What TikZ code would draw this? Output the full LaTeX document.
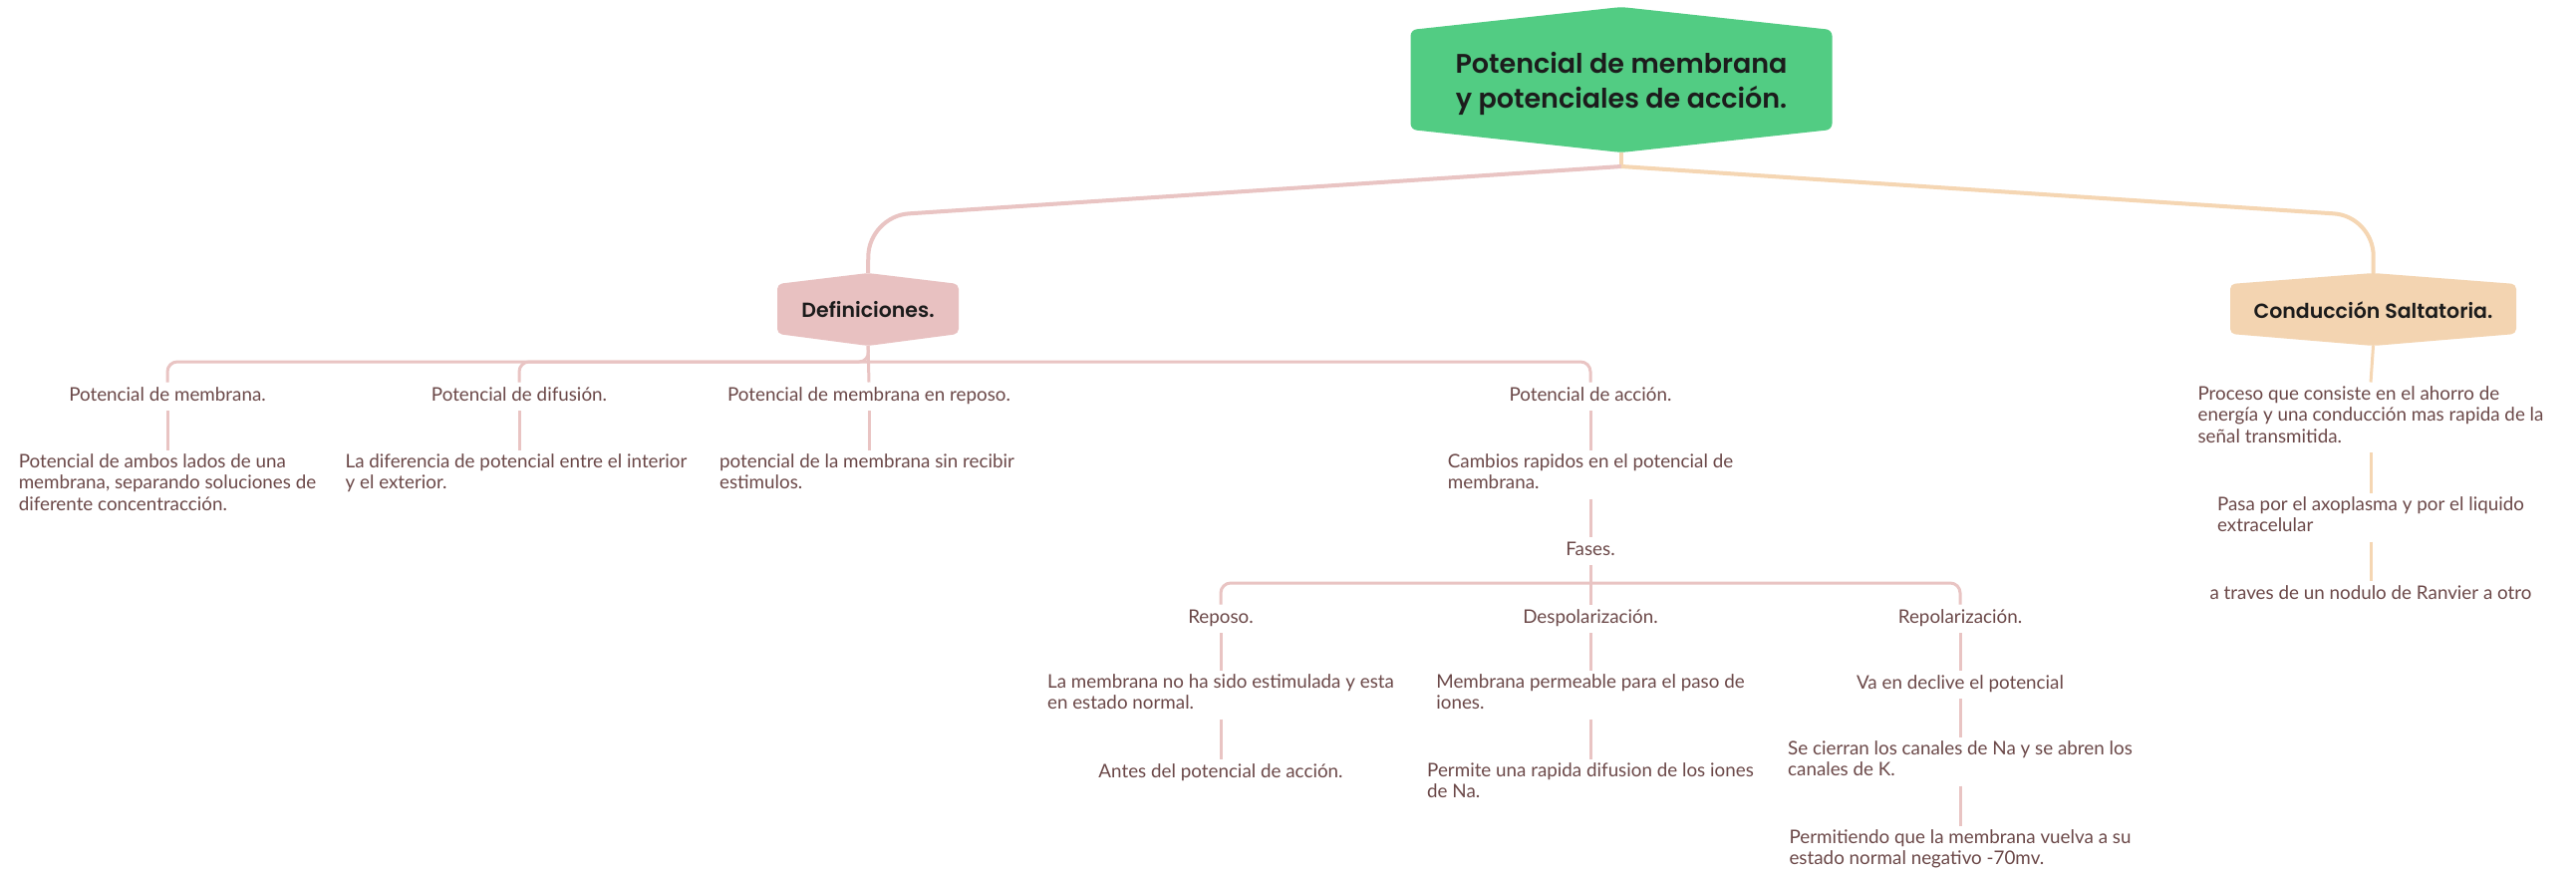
\documentclass[tikz,border=0pt]{standalone}
\usepackage{fontspec}
\setmainfont{Lato}
\newfontfamily\headfont{Poppins SemiBold}
\usetikzlibrary{backgrounds,calc}
\definecolor{rootgreen}{HTML}{52CC83}
\definecolor{defpink}{HTML}{E8C1C1}
\definecolor{csorange}{HTML}{F3D4B1}
\definecolor{linepink}{HTML}{E9C4C3}
\definecolor{lineorange}{HTML}{F5D6B3}
\definecolor{leaftext}{HTML}{6B4848}
\definecolor{headtext}{HTML}{1C1C1C}
\begin{document}
\begin{tikzpicture}[x=1pt,y=-1pt,
  leaf/.style={font=\fontsize{18.8}{21.5}\selectfont, text=leaftext, align=left,
    inner xsep=0pt, inner ysep=3.5pt, anchor=north,
    execute at begin node=\strut, execute at end node=\strut},
  hexnode/.style={inner sep=0pt, text=headtext, align=center},
  pinkline/.style={draw=linepink, line width=3pt},
  pinkmain/.style={draw=linepink, line width=4pt},
  orangeline/.style={draw=lineorange, line width=3pt},
  orangemain/.style={draw=lineorange, line width=4pt}]
\useasboundingbox (0,0) rectangle (2585,875);

% ---- boxes (text nodes; the hexagons are drawn round them)
\node[hexnode, font=\headfont\fontsize{27}{35}\selectfont] (root) at (1627,84)
  {Potencial de membrana\\y potenciales de acción.};
\node[hexnode, font=\headfont\fontsize{20.5}{25}\selectfont] (def) at (871,311) {Definiciones.};
\node[hexnode, font=\headfont\fontsize{20.5}{25}\selectfont] (cs) at (2381.5,311) {Conducción Saltatoria.};

% root hexagon corners
\coordinate (rnw) at ($(root.center)+(-211.5,-54)$);
\coordinate (rne) at ($(root.center)+(211.5,-54)$);
\coordinate (rse) at ($(root.center)+(211.5,46)$);
\coordinate (rsw) at ($(root.center)+(-211.5,46)$);
\coordinate (rtop) at ($(root.center)+(0,-77)$);
\coordinate (roottip) at ($(root.center)+(0,69)$);
% Definiciones hexagon
\coordinate (dnw) at ($(def.center)+(-91,-26)$);
\coordinate (dne) at ($(def.center)+(91,-26)$);
\coordinate (dse) at ($(def.center)+(91,24)$);
\coordinate (dsw) at ($(def.center)+(-91,24)$);
\coordinate (deftop) at ($(def.center)+(0,-37)$);
\coordinate (defbot) at ($(def.center)+(0,36)$);
% Conduccion hexagon
\coordinate (cnw) at ($(cs.center)+(-143.5,-26)$);
\coordinate (cne) at ($(cs.center)+(143.5,-26)$);
\coordinate (cse) at ($(cs.center)+(143.5,24)$);
\coordinate (csw) at ($(cs.center)+(-143.5,24)$);
\coordinate (cstop) at ($(cs.center)+(0,-37)$);
\coordinate (csbot) at ($(cs.center)+(0,36)$);

\begin{scope}[on background layer]
  \fill[white] (0,0) rectangle (2585,875);
  \fill[rootgreen, rounded corners=6pt] (rnw) -- (rtop) -- (rne) -- (rse) -- (roottip) -- (rsw) -- cycle;
  \fill[defpink, rounded corners=5pt] (dnw) -- (deftop) -- (dne) -- (dse) -- (defbot) -- (dsw) -- cycle;
  \fill[csorange, rounded corners=5pt] (cnw) -- (cstop) -- (cne) -- (cse) -- (csbot) -- (csw) -- cycle;
\end{scope}

% ---- Definiciones branch
\node[leaf] (pm) at (168,383.5) {Potencial de membrana.};
\node[leaf] (pd) at (521,383.5) {Potencial de difusión.};
\node[leaf] (pmr) at (872,383.5) {Potencial de membrana en reposo.};
\node[leaf] (pa) at (1596,383.5) {Potencial de acción.};

\node[leaf] (pm1) at (168,451.5) {Potencial de ambos lados de una\\membrana, separando soluciones de\\diferente concentracción.};
\node[leaf] (pd1) at (518,451.5) {La diferencia de potencial entre el interior\\y el exterior.};
\node[leaf] (pmr1) at (870,451.5) {potencial de la membrana sin recibir\\estimulos.};
\node[leaf] (pa1) at (1596,451.5) {Cambios rapidos en el potencial de\\membrana.};
\node[leaf] (fases) at (1596,538.5) {Fases.};

\node[leaf] (rep) at (1225,606.5) {Reposo.};
\node[leaf] (desp) at (1596,606.5) {Despolarización.};
\node[leaf] (repol) at (1967,606.5) {Repolarización.};

\node[leaf] (rep1) at (1225,672.5) {La membrana no ha sido estimulada y esta\\en estado normal.};
\node[leaf] (rep2) at (1225,761.5) {Antes del potencial de acción.};
\node[leaf] (desp1) at (1596,672.5) {Membrana permeable para el paso de\\iones.};
\node[leaf] (desp2) at (1596,761.5) {Permite una rapida difusion de los iones\\de Na.};
\node[leaf] (repol1) at (1967,672.5) {Va en declive el potencial};
\node[leaf] (repol2) at (1967,739.5) {Se cierran los canales de Na y se abren los\\canales de K.};
\node[leaf] (repol3) at (1967,828.5) {Permitiendo que la membrana vuelva a su\\estado normal negativo -70mv.};

% ---- Conduccion branch
\node[leaf] (cs1) at (2379,383.5) {Proceso que consiste en el ahorro de\\energía y una conducción mas rapida de la\\señal transmitida.};
\node[leaf] (cs2) at (2379,494.5) {Pasa por el axoplasma y por el liquido\\extracelular};
\node[leaf] (cs3) at (2379,582.5) {a traves de un nodulo de Ranvier a otro};

% ---- connectors
\coordinate (junc) at (1627,167);
\coordinate (pinkc) at (872,217);
\coordinate (orangec) at (2382,217);
\draw[orangemain] (roottip) -- (junc);
\draw[pinkmain, rounded corners=40pt] (junc) -- (pinkc) -- (deftop);
\draw[orangemain, rounded corners=40pt] (junc) -- (orangec) -- (cstop);

\coordinate (defh) at (872,363);
\draw[pinkline, rounded corners=10pt] (defbot) -- (defh) -| (pm.north);
\draw[pinkline, rounded corners=10pt] (defh) -| (pd.north);
\draw[pinkline, rounded corners=10pt] (defh) -| (pa.north);
\draw[pinkline] (defbot) -- (pmr.north);

\draw[pinkline] (pm.south) -- (pm.south |- pm1.north);
\draw[pinkline] (pd.south) -- (pd.south |- pd1.north);
\draw[pinkline] (pmr.south) -- (pmr.south |- pmr1.north);
\draw[pinkline] (pa.south) -- (pa1.north);
\draw[pinkline] (pa1.south) -- (fases.north);

\coordinate (fh) at (1596,585);
\draw[pinkline] (fases.south) -- (desp.north);
\draw[pinkline, rounded corners=10pt] (fh) -| (rep.north);
\draw[pinkline, rounded corners=10pt] (fh) -| (repol.north);

\draw[pinkline] (rep.south) -- (rep1.north);
\draw[pinkline] (rep1.south) -- (rep2.north);
\draw[pinkline] (desp.south) -- (desp1.north);
\draw[pinkline] (desp1.south) -- (desp2.north);
\draw[pinkline] (repol.south) -- (repol1.north);
\draw[pinkline] (repol1.south) -- (repol2.north);
\draw[pinkline] (repol2.south) -- (repol3.north);

\draw[orangeline] (csbot) -- (cs1.north);
\draw[orangeline] (cs1.south) -- (cs2.north);
\draw[orangeline] (cs2.south) -- (cs3.north);
\end{tikzpicture}
\end{document}
